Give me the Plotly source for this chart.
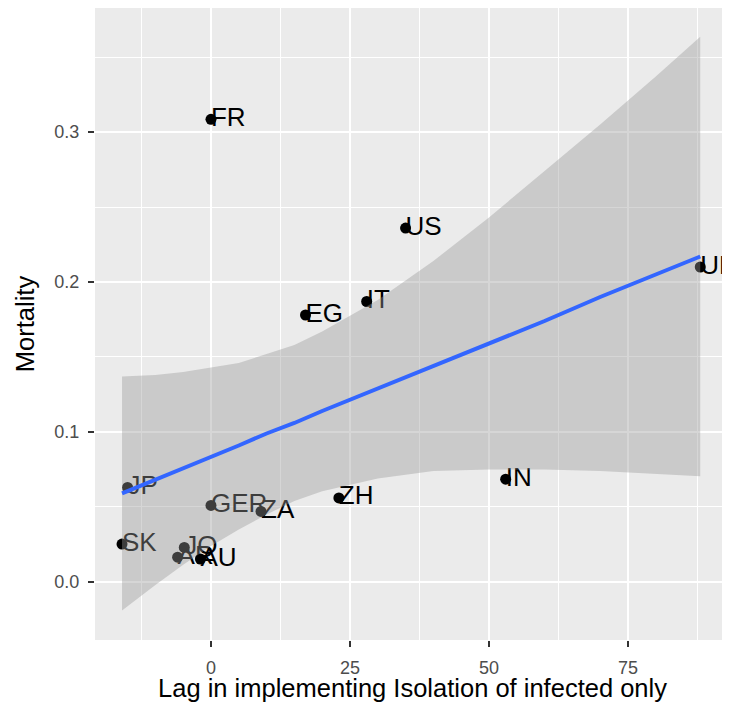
import plotly.graph_objects as go

# Data
countries = ["FR", "US", "IT", "EG", "UK", "IN", "ZH", "ZA", "GER", "JP", "SK", "JO", "AR", "AU"]
lag = [0, 35, 28, 17, 88, 53, 23, 9, 0, -15, -16, -4.8, -6, -1.9]
mortality = [0.3085, 0.236, 0.187, 0.178, 0.210, 0.0685, 0.056, 0.047, 0.051, 0.063, 0.0253, 0.023, 0.0165, 0.0153]

# Linear smoother and its confidence band
fit_x = [-16, -10, -5, 0, 5, 10, 15, 20, 30, 40, 50, 60, 70, 80, 88]
fit_y = [0.059, 0.068, 0.076, 0.083, 0.091, 0.099, 0.106, 0.114, 0.129, 0.144, 0.159, 0.174, 0.190, 0.205, 0.217]
fit_lo = [-0.019, -0.002, 0.0115, 0.024, 0.035, 0.045, 0.054, 0.0605, 0.069, 0.074, 0.075, 0.075, 0.074, 0.072, 0.0705]
fit_hi = [0.137, 0.138, 0.140, 0.143, 0.146, 0.152, 0.158, 0.167, 0.188, 0.214, 0.243, 0.274, 0.305, 0.337, 0.3635]

x_ticks = [0, 25, 50, 75]
y_ticks = [0.0, 0.1, 0.2, 0.3]
y_tick_labels = ["0.0", "0.1", "0.2", "0.3"]

FONT = "Liberation Sans, Arial, sans-serif"

fig = go.Figure()

fig.add_trace(go.Scatter(
    x=lag, y=mortality, mode="markers",
    marker=dict(color="black", size=11),
    hoverinfo="skip", showlegend=False,
))
fig.add_trace(go.Scatter(
    x=lag, y=mortality, mode="text", text=countries,
    textposition="middle right",
    textfont=dict(family=FONT, size=26, color="black"),
    hoverinfo="skip", showlegend=False,
))
# ribbon drawn on top of points and labels, as in ggplot
fig.add_trace(go.Scatter(
    x=fit_x, y=fit_hi, mode="lines", line=dict(width=0),
    hoverinfo="skip", showlegend=False,
))
fig.add_trace(go.Scatter(
    x=fit_x, y=fit_lo, mode="lines", line=dict(width=0),
    fill="tonexty", fillcolor="rgba(153,153,153,0.4)",
    hoverinfo="skip", showlegend=False,
))
fig.add_trace(go.Scatter(
    x=fit_x, y=fit_y, mode="lines",
    line=dict(color="#3366FF", width=4),
    hoverinfo="skip", showlegend=False,
))

axis_common = dict(
    showgrid=True, gridcolor="white", gridwidth=2,
    zeroline=False, showline=False,
    ticks="outside", ticklen=6, tickwidth=1.5, tickcolor="#333333",
    ticklabelstandoff=5,
    tickfont=dict(family=FONT, size=18, color="#4D4D4D"),
)

fig.update_layout(
    width=722, height=694,
    margin=dict(l=87, r=0, t=0, b=62),
    paper_bgcolor="white", plot_bgcolor="#EBEBEB",
    font=dict(family=FONT),
    xaxis=dict(
        range=[-20.86, 93.35],
        tickmode="array", tickvals=x_ticks, ticktext=[str(v) for v in x_ticks],
        minor=dict(dtick=12.5, tick0=0, showgrid=True, gridcolor="white", gridwidth=1, ticks=""),
        title=dict(text="Lag in implementing Isolation of infected only",
                   font=dict(family=FONT, size=25.5, color="black"), standoff=2),
        **axis_common,
    ),
    yaxis=dict(
        range=[-0.0387, 0.3827],
        tickmode="array", tickvals=y_ticks, ticktext=y_tick_labels,
        minor=dict(dtick=0.05, tick0=0, showgrid=True, gridcolor="white", gridwidth=1, ticks=""),
        title=dict(text="Mortality",
                   font=dict(family=FONT, size=25.5, color="black"), standoff=12),
        **axis_common,
    ),
)

fig.write_html("out.html")
